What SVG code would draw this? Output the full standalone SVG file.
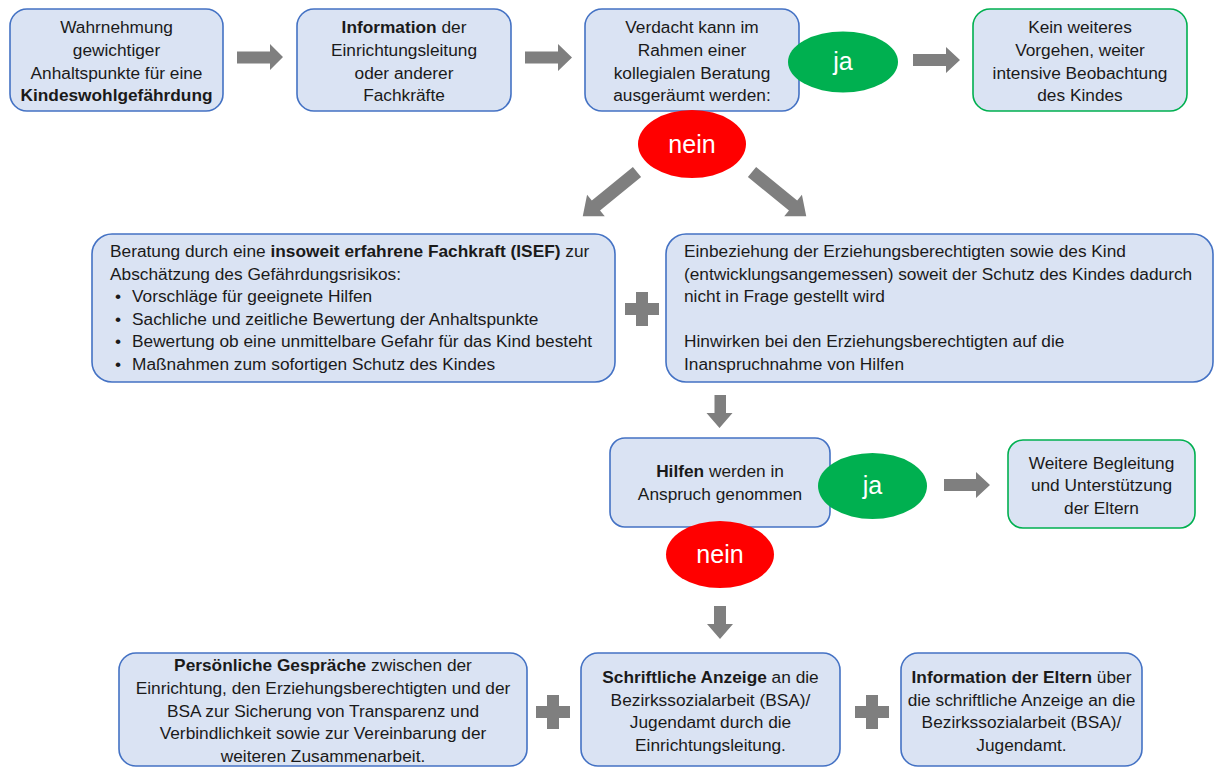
<svg xmlns="http://www.w3.org/2000/svg" width="1215" height="769" viewBox="0 0 1215 769">
<style>
.box{fill:#DAE3F3;stroke:#4472C4;stroke-width:1.6}
.gbox{fill:#DAE3F3;stroke:#00B050;stroke-width:1.6}
.t{font-family:"Liberation Sans",Arial,sans-serif;font-size:17.3px;fill:#1a1a1a}
.c{text-anchor:middle}
.b{font-weight:bold}
.ja{fill:#00B050}
.nein{fill:#FF0000}
.lbl{font-family:"Liberation Sans",Arial,sans-serif;font-size:25px;fill:#ffffff;text-anchor:middle}
.arrow{fill:#7F7F7F}
</style>
<rect width="1215" height="769" fill="#ffffff"/>

<g id="connectors">
<polygon class="arrow" points="237,51.5 270,51.5 270,44 283,57 270,70 270,63.5 237,63.5"/>
<polygon class="arrow" points="525,51.5 558,51.5 558,44 572,57.5 558,71 558,63.5 525,63.5"/>
<polygon class="arrow" points="913,54 946,54 946,47 960,60 946,73 946,66 913,66"/>
<polygon class="arrow" transform="translate(637,172) rotate(140.8)" points="0,-6.5 53,-6.5 53,-14 70,0 53,14 53,6.5 0,6.5"/>
<polygon class="arrow" transform="translate(752,172) rotate(39.2)" points="0,-6.5 53,-6.5 53,-14 70,0 53,14 53,6.5 0,6.5"/>
<polygon class="arrow" points="714.5,395 726,395 726,413 732.5,413 719.5,428 706.5,413 714.5,413"/>
<polygon class="arrow" points="944,479 976,479 976,472 990,485 976,498 976,491 944,491"/>
<polygon class="arrow" points="714,606 726,606 726,624 733,624 720,639 707,624 714,624"/>
<path class="arrow" d="M636,292h12v11h11v12h-11v11h-12v-11h-11v-12h11z"/>
<path class="arrow" d="M547,695h12v11h11v12h-11v11h-12v-11h-11v-12h11z"/>
<path class="arrow" d="M866,695h12v11h11v12h-11v11h-12v-11h-11v-12h11z"/>
</g>

<g id="n1">
<rect class="box" x="10" y="9" width="213" height="102" rx="17"/>
<text class="t c" x="116.5" y="33">Wahrnehmung</text>
<text class="t c" x="116.5" y="56">gewichtiger</text>
<text class="t c" x="116.5" y="78.5">Anhaltspunkte für eine</text>
<text class="t c b" x="116.5" y="101">Kindeswohlgefährdung</text>
</g>

<g id="n2">
<rect class="box" x="297" y="9" width="214" height="102" rx="17"/>
<text class="t c" x="404" y="33"><tspan class="b">Information</tspan> der</text>
<text class="t c" x="404" y="56">Einrichtungsleitung</text>
<text class="t c" x="404" y="78.5">oder anderer</text>
<text class="t c" x="404" y="101">Fachkräfte</text>
</g>

<g id="n3">
<rect class="box" x="585" y="9" width="214" height="102" rx="17"/>
<text class="t c" x="692" y="33">Verdacht kann im</text>
<text class="t c" x="692" y="56">Rahmen einer</text>
<text class="t c" x="692" y="78.5">kollegialen Beratung</text>
<text class="t c" x="692" y="101">ausgeräumt werden:</text>
</g>

<g id="ja1">
<ellipse class="ja" cx="843" cy="62" rx="55" ry="30.5"/>
<text class="lbl" x="843" y="70">ja</text>
</g>

<g id="n4">
<rect class="gbox" x="973" y="9" width="214" height="102" rx="17"/>
<text class="t c" x="1080" y="33">Kein weiteres</text>
<text class="t c" x="1080" y="56">Vorgehen, weiter</text>
<text class="t c" x="1080" y="78.5">intensive Beobachtung</text>
<text class="t c" x="1080" y="101">des Kindes</text>
</g>

<g id="nein1">
<ellipse class="nein" cx="692" cy="144" rx="54" ry="34"/>
<text class="lbl" x="692" y="153">nein</text>
</g>

<g id="n5">
<rect class="box" x="92" y="234" width="523" height="148" rx="20"/>
<text class="t" x="110" y="257">Beratung durch eine <tspan class="b">insoweit erfahrene Fachkraft (ISEF)</tspan> zur</text>
<text class="t" x="110" y="280">Abschätzung des Gefährdungsrisikos:</text>
<text class="t" x="115" y="302">•</text>
<text class="t" x="132" y="302">Vorschläge für geeignete Hilfen</text>
<text class="t" x="115" y="325">•</text>
<text class="t" x="132" y="325">Sachliche und zeitliche Bewertung der Anhaltspunkte</text>
<text class="t" x="115" y="347">•</text>
<text class="t" x="132" y="347">Bewertung ob eine unmittelbare Gefahr für das Kind besteht</text>
<text class="t" x="115" y="370">•</text>
<text class="t" x="132" y="370">Maßnahmen zum sofortigen Schutz des Kindes</text>
</g>

<g id="n6">
<rect class="box" x="666" y="234" width="547" height="148" rx="20"/>
<text class="t" x="684" y="257">Einbeziehung der Erziehungsberechtigten sowie des Kind</text>
<text class="t" x="684" y="280">(entwicklungsangemessen) soweit der Schutz des Kindes dadurch</text>
<text class="t" x="684" y="302">nicht in Frage gestellt wird</text>
<text class="t" x="684" y="347">Hinwirken bei den Erziehungsberechtigten auf die</text>
<text class="t" x="684" y="370">Inanspruchnahme von Hilfen</text>
</g>

<g id="n7">
<rect class="box" x="610" y="438" width="220" height="89" rx="15"/>
<text class="t c" x="720" y="477"><tspan class="b">Hilfen</tspan> werden in</text>
<text class="t c" x="720" y="500">Anspruch genommen</text>
</g>

<g id="ja2">
<ellipse class="ja" cx="872.5" cy="486" rx="54.5" ry="33"/>
<text class="lbl" x="872.5" y="494">ja</text>
</g>

<g id="n8">
<rect class="gbox" x="1008" y="440" width="187" height="88" rx="15"/>
<text class="t c" x="1101.5" y="469">Weitere Begleitung</text>
<text class="t c" x="1101.5" y="491">und Unterstützung</text>
<text class="t c" x="1101.5" y="514">der Eltern</text>
</g>

<g id="nein2">
<ellipse class="nein" cx="720" cy="554.5" rx="54" ry="33.5"/>
<text class="lbl" x="720" y="563">nein</text>
</g>

<g id="n9">
<rect class="box" x="119" y="653" width="408" height="113" rx="17"/>
<text class="t c" x="323" y="671"><tspan class="b">Persönliche Gespräche</tspan> zwischen der</text>
<text class="t c" x="323" y="694">Einrichtung, den Erziehungsberechtigten und der</text>
<text class="t c" x="323" y="717">BSA zur Sicherung von Transparenz und</text>
<text class="t c" x="323" y="739">Verbindlichkeit sowie zur Vereinbarung der</text>
<text class="t c" x="323" y="762">weiteren Zusammenarbeit.</text>
</g>

<g id="n10">
<rect class="box" x="581" y="653" width="259" height="113" rx="17"/>
<text class="t c" x="710.5" y="683"><tspan class="b">Schriftliche Anzeige</tspan> an die</text>
<text class="t c" x="710.5" y="706">Bezirkssozialarbeit (BSA)/</text>
<text class="t c" x="710.5" y="728">Jugendamt durch die</text>
<text class="t c" x="710.5" y="751">Einrichtungsleitung.</text>
</g>

<g id="n11">
<rect class="box" x="901" y="653" width="241" height="113" rx="17"/>
<text class="t c" x="1021.5" y="683"><tspan class="b">Information der Eltern</tspan> über</text>
<text class="t c" x="1021.5" y="706">die schriftliche Anzeige an die</text>
<text class="t c" x="1021.5" y="728">Bezirkssozialarbeit (BSA)/</text>
<text class="t c" x="1021.5" y="751">Jugendamt.</text>
</g>
</svg>
